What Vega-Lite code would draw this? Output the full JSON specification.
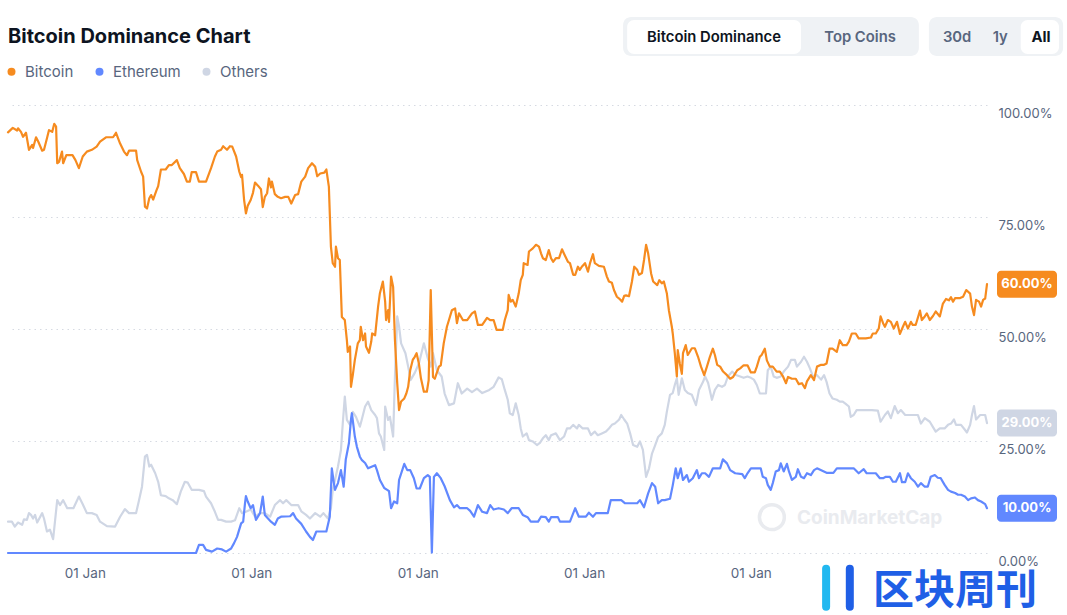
{
"$schema": "https://vega.github.io/schema/vega-lite/v6.json",
"width": 979,
"height": 448,
"autosize": {"type": "none"},
"padding": {"left": 8, "top": 105, "right": 80, "bottom": 62},
"background": "#ffffff",
"config": {"view": {"stroke": null}, "font": "Inter",
 "axisX": {"title": null, "format": "%d %b", "labelAlign": "left", "labelFlush": false, "labelOverlap": false, "grid": false, "domain": false, "ticks": false, "tickSize": 0, "labelPadding": 13, "labelFontSize": 13.5, "labelColor": "#58667e", "labelFont": "Inter"},
 "axisY": {"title": null, "domain": false, "ticks": false, "tickSize": 0, "labelPadding": 11, "labelAlign": "left", "labelBaseline": "top", "labelOffset": 2.5, "labelFontSize": 13, "labelColor": "#58667e", "labelFont": "Inter", "grid": true, "gridColor": "#d6dae2", "gridDash": [1.5, 4], "gridWidth": 1}
},
"title": {"text": "Bitcoin Dominance Chart", "anchor": "start", "frame": "group", "orient": "top", "offset": -45.5, "baseline": "alphabetic", "fontSize": 20, "fontWeight": 700, "font": "Inter", "color": "#0d1421"},
"datasets": {
"dominance": [
{"date":"2013-04-29","series":"Bitcoin","value":93.9},
{"date":"2013-05-20","series":"Bitcoin","value":94.9},
{"date":"2013-06-08","series":"Bitcoin","value":94.3},
{"date":"2013-06-12","series":"Bitcoin","value":94.8},
{"date":"2013-06-25","series":"Bitcoin","value":94.0},
{"date":"2013-07-04","series":"Bitcoin","value":92.9},
{"date":"2013-07-17","series":"Bitcoin","value":93.8},
{"date":"2013-07-30","series":"Bitcoin","value":90.0},
{"date":"2013-08-13","series":"Bitcoin","value":91.1},
{"date":"2013-08-17","series":"Bitcoin","value":90.4},
{"date":"2013-08-30","series":"Bitcoin","value":92.8},
{"date":"2013-09-09","series":"Bitcoin","value":91.8},
{"date":"2013-09-26","series":"Bitcoin","value":89.8},
{"date":"2013-10-04","series":"Bitcoin","value":90.0},
{"date":"2013-10-17","series":"Bitcoin","value":92.6},
{"date":"2013-10-26","series":"Bitcoin","value":94.4},
{"date":"2013-11-09","series":"Bitcoin","value":94.0},
{"date":"2013-11-18","series":"Bitcoin","value":95.8},
{"date":"2013-11-26","series":"Bitcoin","value":95.2},
{"date":"2013-12-01","series":"Bitcoin","value":87.0},
{"date":"2013-12-09","series":"Bitcoin","value":87.3},
{"date":"2013-12-22","series":"Bitcoin","value":89.6},
{"date":"2013-12-27","series":"Bitcoin","value":87.0},
{"date":"2014-01-10","series":"Bitcoin","value":88.8},
{"date":"2014-02-06","series":"Bitcoin","value":88.8},
{"date":"2014-02-19","series":"Bitcoin","value":87.7},
{"date":"2014-03-06","series":"Bitcoin","value":85.9},
{"date":"2014-03-23","series":"Bitcoin","value":88.5},
{"date":"2014-04-10","series":"Bitcoin","value":89.6},
{"date":"2014-05-02","series":"Bitcoin","value":90.0},
{"date":"2014-05-23","series":"Bitcoin","value":90.7},
{"date":"2014-06-07","series":"Bitcoin","value":91.8},
{"date":"2014-07-03","series":"Bitcoin","value":92.8},
{"date":"2014-08-03","series":"Bitcoin","value":92.8},
{"date":"2014-08-16","series":"Bitcoin","value":93.8},
{"date":"2014-09-03","series":"Bitcoin","value":91.4},
{"date":"2014-09-20","series":"Bitcoin","value":89.6},
{"date":"2014-10-03","series":"Bitcoin","value":88.8},
{"date":"2014-10-12","series":"Bitcoin","value":89.8},
{"date":"2014-11-12","series":"Bitcoin","value":89.8},
{"date":"2014-11-17","series":"Bitcoin","value":87.7},
{"date":"2014-12-04","series":"Bitcoin","value":85.1},
{"date":"2014-12-13","series":"Bitcoin","value":84.0},
{"date":"2014-12-21","series":"Bitcoin","value":77.3},
{"date":"2014-12-30","series":"Bitcoin","value":76.9},
{"date":"2015-01-09","series":"Bitcoin","value":79.2},
{"date":"2015-01-17","series":"Bitcoin","value":79.9},
{"date":"2015-01-26","series":"Bitcoin","value":78.9},
{"date":"2015-02-09","series":"Bitcoin","value":80.9},
{"date":"2015-02-17","series":"Bitcoin","value":81.9},
{"date":"2015-03-01","series":"Bitcoin","value":85.6},
{"date":"2015-03-22","series":"Bitcoin","value":85.6},
{"date":"2015-04-05","series":"Bitcoin","value":86.6},
{"date":"2015-04-18","series":"Bitcoin","value":86.6},
{"date":"2015-05-10","series":"Bitcoin","value":87.7},
{"date":"2015-05-23","series":"Bitcoin","value":85.9},
{"date":"2015-06-10","series":"Bitcoin","value":84.6},
{"date":"2015-06-23","series":"Bitcoin","value":82.9},
{"date":"2015-07-06","series":"Bitcoin","value":82.9},
{"date":"2015-07-14","series":"Bitcoin","value":85.0},
{"date":"2015-08-02","series":"Bitcoin","value":85.0},
{"date":"2015-08-15","series":"Bitcoin","value":82.9},
{"date":"2015-09-15","series":"Bitcoin","value":82.9},
{"date":"2015-10-07","series":"Bitcoin","value":85.9},
{"date":"2015-10-24","series":"Bitcoin","value":88.5},
{"date":"2015-11-03","series":"Bitcoin","value":89.6},
{"date":"2015-11-20","series":"Bitcoin","value":90.0},
{"date":"2015-11-29","series":"Bitcoin","value":90.8},
{"date":"2015-12-16","series":"Bitcoin","value":90.0},
{"date":"2015-12-29","series":"Bitcoin","value":90.8},
{"date":"2016-01-08","series":"Bitcoin","value":90.7},
{"date":"2016-01-25","series":"Bitcoin","value":88.5},
{"date":"2016-02-08","series":"Bitcoin","value":85.1},
{"date":"2016-02-16","series":"Bitcoin","value":83.9},
{"date":"2016-02-20","series":"Bitcoin","value":84.4},
{"date":"2016-02-29","series":"Bitcoin","value":78.8},
{"date":"2016-03-08","series":"Bitcoin","value":75.8},
{"date":"2016-03-16","series":"Bitcoin","value":77.5},
{"date":"2016-03-29","series":"Bitcoin","value":78.8},
{"date":"2016-04-08","series":"Bitcoin","value":80.4},
{"date":"2016-04-17","series":"Bitcoin","value":82.7},
{"date":"2016-04-30","series":"Bitcoin","value":82.0},
{"date":"2016-05-13","series":"Bitcoin","value":81.2},
{"date":"2016-05-21","series":"Bitcoin","value":77.2},
{"date":"2016-05-30","series":"Bitcoin","value":79.5},
{"date":"2016-06-09","series":"Bitcoin","value":80.3},
{"date":"2016-06-17","series":"Bitcoin","value":83.6},
{"date":"2016-06-26","series":"Bitcoin","value":81.6},
{"date":"2016-06-30","series":"Bitcoin","value":82.9},
{"date":"2016-07-13","series":"Bitcoin","value":80.1},
{"date":"2016-07-26","series":"Bitcoin","value":79.5},
{"date":"2016-08-09","series":"Bitcoin","value":79.2},
{"date":"2016-08-27","series":"Bitcoin","value":79.5},
{"date":"2016-09-10","series":"Bitcoin","value":79.5},
{"date":"2016-09-23","series":"Bitcoin","value":78.0},
{"date":"2016-10-10","series":"Bitcoin","value":79.9},
{"date":"2016-10-23","series":"Bitcoin","value":80.1},
{"date":"2016-11-06","series":"Bitcoin","value":82.9},
{"date":"2016-11-23","series":"Bitcoin","value":84.0},
{"date":"2016-12-06","series":"Bitcoin","value":85.9},
{"date":"2016-12-23","series":"Bitcoin","value":87.0},
{"date":"2017-01-06","series":"Bitcoin","value":86.2},
{"date":"2017-01-15","series":"Bitcoin","value":84.1},
{"date":"2017-01-28","series":"Bitcoin","value":84.7},
{"date":"2017-02-15","series":"Bitcoin","value":84.9},
{"date":"2017-02-24","series":"Bitcoin","value":85.6},
{"date":"2017-03-07","series":"Bitcoin","value":81.8},
{"date":"2017-03-16","series":"Bitcoin","value":68.4},
{"date":"2017-03-24","series":"Bitcoin","value":64.7},
{"date":"2017-04-03","series":"Bitcoin","value":63.9},
{"date":"2017-04-07","series":"Bitcoin","value":68.4},
{"date":"2017-04-16","series":"Bitcoin","value":65.8},
{"date":"2017-04-24","series":"Bitcoin","value":65.4},
{"date":"2017-05-03","series":"Bitcoin","value":52.7},
{"date":"2017-05-16","series":"Bitcoin","value":52.0},
{"date":"2017-05-25","series":"Bitcoin","value":47.5},
{"date":"2017-05-29","series":"Bitcoin","value":44.9},
{"date":"2017-06-08","series":"Bitcoin","value":46.1},
{"date":"2017-06-12","series":"Bitcoin","value":37.1},
{"date":"2017-06-20","series":"Bitcoin","value":39.7},
{"date":"2017-06-29","series":"Bitcoin","value":43.1},
{"date":"2017-07-12","series":"Bitcoin","value":46.8},
{"date":"2017-07-21","series":"Bitcoin","value":47.5},
{"date":"2017-07-25","series":"Bitcoin","value":50.5},
{"date":"2017-08-04","series":"Bitcoin","value":47.5},
{"date":"2017-08-13","series":"Bitcoin","value":49.0},
{"date":"2017-08-17","series":"Bitcoin","value":46.1},
{"date":"2017-08-30","series":"Bitcoin","value":44.7},
{"date":"2017-09-09","series":"Bitcoin","value":47.2},
{"date":"2017-09-13","series":"Bitcoin","value":49.0},
{"date":"2017-09-26","series":"Bitcoin","value":48.6},
{"date":"2017-10-09","series":"Bitcoin","value":55.0},
{"date":"2017-10-17","series":"Bitcoin","value":58.0},
{"date":"2017-10-30","series":"Bitcoin","value":60.6},
{"date":"2017-11-09","series":"Bitcoin","value":56.1},
{"date":"2017-11-13","series":"Bitcoin","value":52.0},
{"date":"2017-11-22","series":"Bitcoin","value":54.2},
{"date":"2017-11-26","series":"Bitcoin","value":51.6},
{"date":"2017-12-05","series":"Bitcoin","value":61.7},
{"date":"2017-12-14","series":"Bitcoin","value":59.4},
{"date":"2017-12-22","series":"Bitcoin","value":47.5},
{"date":"2018-01-01","series":"Bitcoin","value":37.9},
{"date":"2018-01-09","series":"Bitcoin","value":31.9},
{"date":"2018-01-18","series":"Bitcoin","value":33.8},
{"date":"2018-02-01","series":"Bitcoin","value":34.5},
{"date":"2018-02-10","series":"Bitcoin","value":35.6},
{"date":"2018-02-18","series":"Bitcoin","value":37.1},
{"date":"2018-02-27","series":"Bitcoin","value":40.8},
{"date":"2018-03-10","series":"Bitcoin","value":43.1},
{"date":"2018-03-19","series":"Bitcoin","value":43.8},
{"date":"2018-03-27","series":"Bitcoin","value":44.6},
{"date":"2018-04-06","series":"Bitcoin","value":42.3},
{"date":"2018-04-15","series":"Bitcoin","value":39.0},
{"date":"2018-04-28","series":"Bitcoin","value":36.0},
{"date":"2018-05-11","series":"Bitcoin","value":36.0},
{"date":"2018-05-19","series":"Bitcoin","value":38.6},
{"date":"2018-05-28","series":"Bitcoin","value":58.7},
{"date":"2018-06-07","series":"Bitcoin","value":39.3},
{"date":"2018-06-15","series":"Bitcoin","value":38.9},
{"date":"2018-07-03","series":"Bitcoin","value":41.6},
{"date":"2018-07-11","series":"Bitcoin","value":41.9},
{"date":"2018-07-24","series":"Bitcoin","value":46.8},
{"date":"2018-08-07","series":"Bitcoin","value":50.5},
{"date":"2018-08-16","series":"Bitcoin","value":52.0},
{"date":"2018-08-29","series":"Bitcoin","value":54.2},
{"date":"2018-09-12","series":"Bitcoin","value":54.6},
{"date":"2018-09-20","series":"Bitcoin","value":51.3},
{"date":"2018-09-29","series":"Bitcoin","value":53.5},
{"date":"2018-10-16","series":"Bitcoin","value":52.0},
{"date":"2018-11-04","series":"Bitcoin","value":52.0},
{"date":"2018-11-25","series":"Bitcoin","value":53.5},
{"date":"2018-12-08","series":"Bitcoin","value":53.9},
{"date":"2018-12-21","series":"Bitcoin","value":50.9},
{"date":"2019-01-09","series":"Bitcoin","value":50.9},
{"date":"2019-01-30","series":"Bitcoin","value":52.5},
{"date":"2019-02-13","series":"Bitcoin","value":52.0},
{"date":"2019-02-28","series":"Bitcoin","value":52.0},
{"date":"2019-03-13","series":"Bitcoin","value":49.8},
{"date":"2019-03-22","series":"Bitcoin","value":49.8},
{"date":"2019-04-09","series":"Bitcoin","value":49.8},
{"date":"2019-04-18","series":"Bitcoin","value":52.0},
{"date":"2019-05-01","series":"Bitcoin","value":54.2},
{"date":"2019-05-05","series":"Bitcoin","value":57.6},
{"date":"2019-05-14","series":"Bitcoin","value":56.1},
{"date":"2019-05-23","series":"Bitcoin","value":56.5},
{"date":"2019-06-05","series":"Bitcoin","value":55.0},
{"date":"2019-06-18","series":"Bitcoin","value":57.9},
{"date":"2019-06-27","series":"Bitcoin","value":60.9},
{"date":"2019-07-06","series":"Bitcoin","value":62.1},
{"date":"2019-07-10","series":"Bitcoin","value":64.7},
{"date":"2019-07-27","series":"Bitcoin","value":64.3},
{"date":"2019-08-02","series":"Bitcoin","value":67.3},
{"date":"2019-08-19","series":"Bitcoin","value":68.0},
{"date":"2019-09-02","series":"Bitcoin","value":68.8},
{"date":"2019-09-15","series":"Bitcoin","value":68.4},
{"date":"2019-09-24","series":"Bitcoin","value":66.9},
{"date":"2019-10-02","series":"Bitcoin","value":65.8},
{"date":"2019-10-15","series":"Bitcoin","value":65.4},
{"date":"2019-10-28","series":"Bitcoin","value":67.6},
{"date":"2019-11-07","series":"Bitcoin","value":65.8},
{"date":"2019-11-16","series":"Bitcoin","value":65.0},
{"date":"2019-11-28","series":"Bitcoin","value":65.8},
{"date":"2019-12-12","series":"Bitcoin","value":65.8},
{"date":"2019-12-25","series":"Bitcoin","value":67.8},
{"date":"2020-01-03","series":"Bitcoin","value":66.8},
{"date":"2020-01-20","series":"Bitcoin","value":65.0},
{"date":"2020-01-29","series":"Bitcoin","value":64.7},
{"date":"2020-02-12","series":"Bitcoin","value":62.1},
{"date":"2020-02-21","series":"Bitcoin","value":62.1},
{"date":"2020-03-04","series":"Bitcoin","value":63.9},
{"date":"2020-03-12","series":"Bitcoin","value":63.2},
{"date":"2020-03-21","series":"Bitcoin","value":63.9},
{"date":"2020-04-04","series":"Bitcoin","value":64.7},
{"date":"2020-04-17","series":"Bitcoin","value":62.8},
{"date":"2020-04-26","series":"Bitcoin","value":64.7},
{"date":"2020-05-09","series":"Bitcoin","value":66.7},
{"date":"2020-05-17","series":"Bitcoin","value":64.7},
{"date":"2020-06-04","series":"Bitcoin","value":64.1},
{"date":"2020-06-26","series":"Bitcoin","value":63.9},
{"date":"2020-07-09","series":"Bitcoin","value":61.7},
{"date":"2020-07-18","series":"Bitcoin","value":60.6},
{"date":"2020-07-31","series":"Bitcoin","value":60.3},
{"date":"2020-08-09","series":"Bitcoin","value":58.7},
{"date":"2020-08-22","series":"Bitcoin","value":57.2},
{"date":"2020-09-01","series":"Bitcoin","value":56.8},
{"date":"2020-09-14","series":"Bitcoin","value":56.1},
{"date":"2020-09-23","series":"Bitcoin","value":57.4},
{"date":"2020-10-01","series":"Bitcoin","value":57.5},
{"date":"2020-10-14","series":"Bitcoin","value":57.3},
{"date":"2020-10-27","series":"Bitcoin","value":60.6},
{"date":"2020-11-06","series":"Bitcoin","value":63.9},
{"date":"2020-11-19","series":"Bitcoin","value":63.2},
{"date":"2020-11-27","series":"Bitcoin","value":62.1},
{"date":"2020-12-10","series":"Bitcoin","value":62.5},
{"date":"2020-12-19","series":"Bitcoin","value":65.4},
{"date":"2020-12-28","series":"Bitcoin","value":68.8},
{"date":"2021-01-06","series":"Bitcoin","value":66.9},
{"date":"2021-01-19","series":"Bitcoin","value":62.4},
{"date":"2021-01-28","series":"Bitcoin","value":60.6},
{"date":"2021-02-15","series":"Bitcoin","value":59.8},
{"date":"2021-02-24","series":"Bitcoin","value":60.9},
{"date":"2021-03-07","series":"Bitcoin","value":60.2},
{"date":"2021-03-16","series":"Bitcoin","value":60.6},
{"date":"2021-03-29","series":"Bitcoin","value":58.0},
{"date":"2021-04-07","series":"Bitcoin","value":54.2},
{"date":"2021-04-20","series":"Bitcoin","value":50.5},
{"date":"2021-04-24","series":"Bitcoin","value":49.0},
{"date":"2021-05-03","series":"Bitcoin","value":44.6},
{"date":"2021-05-12","series":"Bitcoin","value":39.4},
{"date":"2021-05-16","series":"Bitcoin","value":45.3},
{"date":"2021-05-25","series":"Bitcoin","value":42.3},
{"date":"2021-06-03","series":"Bitcoin","value":40.0},
{"date":"2021-06-08","series":"Bitcoin","value":44.6},
{"date":"2021-06-20","series":"Bitcoin","value":46.4},
{"date":"2021-06-29","series":"Bitcoin","value":44.2},
{"date":"2021-07-17","series":"Bitcoin","value":45.7},
{"date":"2021-07-30","series":"Bitcoin","value":45.7},
{"date":"2021-08-13","series":"Bitcoin","value":43.8},
{"date":"2021-08-26","series":"Bitcoin","value":41.6},
{"date":"2021-09-09","series":"Bitcoin","value":39.7},
{"date":"2021-09-21","series":"Bitcoin","value":41.6},
{"date":"2021-10-04","series":"Bitcoin","value":43.8},
{"date":"2021-10-17","series":"Bitcoin","value":45.6},
{"date":"2021-10-26","series":"Bitcoin","value":44.2},
{"date":"2021-11-05","series":"Bitcoin","value":42.0},
{"date":"2021-11-18","series":"Bitcoin","value":41.6},
{"date":"2021-12-01","series":"Bitcoin","value":40.5},
{"date":"2021-12-18","series":"Bitcoin","value":39.7},
{"date":"2022-01-01","series":"Bitcoin","value":38.9},
{"date":"2022-01-14","series":"Bitcoin","value":39.3},
{"date":"2022-02-01","series":"Bitcoin","value":40.8},
{"date":"2022-02-14","series":"Bitcoin","value":41.2},
{"date":"2022-03-01","series":"Bitcoin","value":41.9},
{"date":"2022-03-18","series":"Bitcoin","value":41.9},
{"date":"2022-04-02","series":"Bitcoin","value":40.3},
{"date":"2022-04-19","series":"Bitcoin","value":40.3},
{"date":"2022-04-28","series":"Bitcoin","value":41.6},
{"date":"2022-05-11","series":"Bitcoin","value":43.8},
{"date":"2022-05-19","series":"Bitcoin","value":44.2},
{"date":"2022-06-02","series":"Bitcoin","value":45.6},
{"date":"2022-06-11","series":"Bitcoin","value":43.0},
{"date":"2022-06-24","series":"Bitcoin","value":41.6},
{"date":"2022-07-07","series":"Bitcoin","value":41.6},
{"date":"2022-07-24","series":"Bitcoin","value":40.5},
{"date":"2022-08-07","series":"Bitcoin","value":40.5},
{"date":"2022-08-20","series":"Bitcoin","value":39.5},
{"date":"2022-09-03","series":"Bitcoin","value":37.9},
{"date":"2022-09-12","series":"Bitcoin","value":39.3},
{"date":"2022-09-29","series":"Bitcoin","value":38.9},
{"date":"2022-10-16","series":"Bitcoin","value":38.9},
{"date":"2022-10-29","series":"Bitcoin","value":37.7},
{"date":"2022-11-12","series":"Bitcoin","value":37.9},
{"date":"2022-11-25","series":"Bitcoin","value":36.8},
{"date":"2022-12-04","series":"Bitcoin","value":38.3},
{"date":"2022-12-21","series":"Bitcoin","value":39.7},
{"date":"2023-01-04","series":"Bitcoin","value":38.6},
{"date":"2023-01-17","series":"Bitcoin","value":41.6},
{"date":"2023-02-04","series":"Bitcoin","value":42.0},
{"date":"2023-02-17","series":"Bitcoin","value":42.0},
{"date":"2023-02-28","series":"Bitcoin","value":42.3},
{"date":"2023-03-13","series":"Bitcoin","value":45.6},
{"date":"2023-03-26","series":"Bitcoin","value":45.6},
{"date":"2023-04-14","series":"Bitcoin","value":44.9},
{"date":"2023-04-27","series":"Bitcoin","value":47.5},
{"date":"2023-05-10","series":"Bitcoin","value":46.4},
{"date":"2023-05-27","series":"Bitcoin","value":46.4},
{"date":"2023-06-06","series":"Bitcoin","value":47.2},
{"date":"2023-06-19","series":"Bitcoin","value":49.0},
{"date":"2023-07-06","series":"Bitcoin","value":49.0},
{"date":"2023-07-19","series":"Bitcoin","value":47.9},
{"date":"2023-08-19","series":"Bitcoin","value":47.9},
{"date":"2023-09-11","series":"Bitcoin","value":48.1},
{"date":"2023-09-15","series":"Bitcoin","value":48.6},
{"date":"2023-09-19","series":"Bitcoin","value":49.0},
{"date":"2023-10-02","series":"Bitcoin","value":49.0},
{"date":"2023-10-15","series":"Bitcoin","value":50.1},
{"date":"2023-10-23","series":"Bitcoin","value":52.8},
{"date":"2023-11-03","series":"Bitcoin","value":51.3},
{"date":"2023-11-11","series":"Bitcoin","value":50.5},
{"date":"2023-11-24","series":"Bitcoin","value":52.0},
{"date":"2023-12-07","series":"Bitcoin","value":51.6},
{"date":"2023-12-20","series":"Bitcoin","value":50.1},
{"date":"2024-01-03","series":"Bitcoin","value":51.6},
{"date":"2024-01-16","series":"Bitcoin","value":48.9},
{"date":"2024-01-29","series":"Bitcoin","value":50.5},
{"date":"2024-02-08","series":"Bitcoin","value":51.6},
{"date":"2024-02-20","series":"Bitcoin","value":50.1},
{"date":"2024-03-04","series":"Bitcoin","value":51.6},
{"date":"2024-03-12","series":"Bitcoin","value":50.9},
{"date":"2024-03-25","series":"Bitcoin","value":50.9},
{"date":"2024-04-13","series":"Bitcoin","value":54.1},
{"date":"2024-04-21","series":"Bitcoin","value":52.0},
{"date":"2024-05-04","series":"Bitcoin","value":52.8},
{"date":"2024-05-13","series":"Bitcoin","value":53.5},
{"date":"2024-05-26","series":"Bitcoin","value":52.0},
{"date":"2024-06-09","series":"Bitcoin","value":52.9},
{"date":"2024-06-21","series":"Bitcoin","value":53.9},
{"date":"2024-07-09","series":"Bitcoin","value":52.8},
{"date":"2024-07-22","series":"Bitcoin","value":55.6},
{"date":"2024-08-05","series":"Bitcoin","value":56.7},
{"date":"2024-08-18","series":"Bitcoin","value":56.4},
{"date":"2024-08-27","series":"Bitcoin","value":57.1},
{"date":"2024-09-05","series":"Bitcoin","value":56.1},
{"date":"2024-09-14","series":"Bitcoin","value":56.9},
{"date":"2024-10-06","series":"Bitcoin","value":56.9},
{"date":"2024-10-19","series":"Bitcoin","value":57.2},
{"date":"2024-11-02","series":"Bitcoin","value":58.7},
{"date":"2024-11-19","series":"Bitcoin","value":57.9},
{"date":"2024-11-27","series":"Bitcoin","value":55.0},
{"date":"2024-12-06","series":"Bitcoin","value":53.1},
{"date":"2024-12-15","series":"Bitcoin","value":56.5},
{"date":"2024-12-28","series":"Bitcoin","value":56.1},
{"date":"2025-01-06","series":"Bitcoin","value":55.0},
{"date":"2025-01-15","series":"Bitcoin","value":56.5},
{"date":"2025-01-24","series":"Bitcoin","value":56.8},
{"date":"2025-02-01","series":"Bitcoin","value":60.0},
{"date":"2013-04-29","series":"Ethereum","value":0},
{"date":"2015-08-02","series":"Ethereum","value":0},
{"date":"2015-08-15","series":"Ethereum","value":1.8},
{"date":"2015-09-02","series":"Ethereum","value":1.8},
{"date":"2015-09-15","series":"Ethereum","value":0.7},
{"date":"2015-10-11","series":"Ethereum","value":0.3},
{"date":"2015-11-03","series":"Ethereum","value":1.0},
{"date":"2015-11-24","series":"Ethereum","value":0.8},
{"date":"2015-12-12","series":"Ethereum","value":0.3},
{"date":"2016-01-03","series":"Ethereum","value":1.0},
{"date":"2016-01-16","series":"Ethereum","value":2.2},
{"date":"2016-01-29","series":"Ethereum","value":3.6},
{"date":"2016-02-16","series":"Ethereum","value":6.6},
{"date":"2016-02-25","series":"Ethereum","value":7.0},
{"date":"2016-03-04","series":"Ethereum","value":11.1},
{"date":"2016-03-08","series":"Ethereum","value":12.7},
{"date":"2016-03-16","series":"Ethereum","value":11.5},
{"date":"2016-03-29","series":"Ethereum","value":10.0},
{"date":"2016-04-08","series":"Ethereum","value":10.7},
{"date":"2016-04-21","series":"Ethereum","value":7.4},
{"date":"2016-05-09","series":"Ethereum","value":8.9},
{"date":"2016-05-21","series":"Ethereum","value":12.6},
{"date":"2016-05-30","series":"Ethereum","value":8.5},
{"date":"2016-06-13","series":"Ethereum","value":7.7},
{"date":"2016-06-26","series":"Ethereum","value":7.0},
{"date":"2016-07-13","series":"Ethereum","value":6.3},
{"date":"2016-07-26","series":"Ethereum","value":7.7},
{"date":"2016-08-09","series":"Ethereum","value":8.1},
{"date":"2016-09-18","series":"Ethereum","value":8.2},
{"date":"2016-10-01","series":"Ethereum","value":8.9},
{"date":"2016-10-14","series":"Ethereum","value":7.7},
{"date":"2016-11-06","series":"Ethereum","value":6.5},
{"date":"2016-11-27","series":"Ethereum","value":4.8},
{"date":"2016-12-14","series":"Ethereum","value":3.6},
{"date":"2016-12-27","series":"Ethereum","value":2.9},
{"date":"2017-01-11","series":"Ethereum","value":4.8},
{"date":"2017-02-24","series":"Ethereum","value":4.8},
{"date":"2017-03-11","series":"Ethereum","value":8.1},
{"date":"2017-03-20","series":"Ethereum","value":18.9},
{"date":"2017-03-29","series":"Ethereum","value":15.6},
{"date":"2017-04-03","series":"Ethereum","value":14.1},
{"date":"2017-04-16","series":"Ethereum","value":15.6},
{"date":"2017-04-29","series":"Ethereum","value":18.5},
{"date":"2017-05-11","series":"Ethereum","value":14.8},
{"date":"2017-05-20","series":"Ethereum","value":20.8},
{"date":"2017-06-03","series":"Ethereum","value":24.5},
{"date":"2017-06-12","series":"Ethereum","value":29.7},
{"date":"2017-06-16","series":"Ethereum","value":31.2},
{"date":"2017-06-29","series":"Ethereum","value":26.0},
{"date":"2017-07-08","series":"Ethereum","value":23.7},
{"date":"2017-07-21","series":"Ethereum","value":21.5},
{"date":"2017-07-29","series":"Ethereum","value":20.8},
{"date":"2017-08-13","series":"Ethereum","value":20.1},
{"date":"2017-08-26","series":"Ethereum","value":18.9},
{"date":"2017-09-13","series":"Ethereum","value":19.3},
{"date":"2017-09-26","series":"Ethereum","value":19.6},
{"date":"2017-10-04","series":"Ethereum","value":18.5},
{"date":"2017-10-17","series":"Ethereum","value":16.3},
{"date":"2017-11-05","series":"Ethereum","value":14.5},
{"date":"2017-11-18","series":"Ethereum","value":14.1},
{"date":"2017-11-26","series":"Ethereum","value":13.8},
{"date":"2017-12-05","series":"Ethereum","value":10.0},
{"date":"2017-12-18","series":"Ethereum","value":11.5},
{"date":"2018-01-01","series":"Ethereum","value":11.1},
{"date":"2018-01-09","series":"Ethereum","value":16.3},
{"date":"2018-02-01","series":"Ethereum","value":19.9},
{"date":"2018-02-14","series":"Ethereum","value":18.5},
{"date":"2018-02-27","series":"Ethereum","value":18.5},
{"date":"2018-03-15","series":"Ethereum","value":16.7},
{"date":"2018-03-27","series":"Ethereum","value":14.4},
{"date":"2018-04-10","series":"Ethereum","value":14.4},
{"date":"2018-04-28","series":"Ethereum","value":16.7},
{"date":"2018-05-15","series":"Ethereum","value":17.4},
{"date":"2018-05-24","series":"Ethereum","value":17.0},
{"date":"2018-06-02","series":"Ethereum","value":0.1},
{"date":"2018-06-11","series":"Ethereum","value":17.0},
{"date":"2018-06-24","series":"Ethereum","value":17.8},
{"date":"2018-07-11","series":"Ethereum","value":16.7},
{"date":"2018-07-28","series":"Ethereum","value":14.9},
{"date":"2018-08-20","series":"Ethereum","value":11.8},
{"date":"2018-09-07","series":"Ethereum","value":10.2},
{"date":"2018-09-20","series":"Ethereum","value":10.7},
{"date":"2018-10-03","series":"Ethereum","value":10.0},
{"date":"2018-11-04","series":"Ethereum","value":10.0},
{"date":"2018-11-17","series":"Ethereum","value":9.4},
{"date":"2018-12-04","series":"Ethereum","value":8.1},
{"date":"2018-12-21","series":"Ethereum","value":10.7},
{"date":"2019-01-09","series":"Ethereum","value":9.2},
{"date":"2019-01-30","series":"Ethereum","value":8.9},
{"date":"2019-02-13","series":"Ethereum","value":10.7},
{"date":"2019-02-28","series":"Ethereum","value":9.7},
{"date":"2019-03-22","series":"Ethereum","value":10.0},
{"date":"2019-04-14","series":"Ethereum","value":9.7},
{"date":"2019-05-01","series":"Ethereum","value":8.9},
{"date":"2019-05-18","series":"Ethereum","value":10.0},
{"date":"2019-06-18","series":"Ethereum","value":10.0},
{"date":"2019-07-06","series":"Ethereum","value":8.5},
{"date":"2019-07-27","series":"Ethereum","value":8.0},
{"date":"2019-08-10","series":"Ethereum","value":7.0},
{"date":"2019-09-11","series":"Ethereum","value":7.0},
{"date":"2019-09-24","series":"Ethereum","value":8.1},
{"date":"2019-10-15","series":"Ethereum","value":8.0},
{"date":"2019-10-28","series":"Ethereum","value":7.0},
{"date":"2019-11-07","series":"Ethereum","value":8.0},
{"date":"2019-12-07","series":"Ethereum","value":8.0},
{"date":"2019-12-16","series":"Ethereum","value":7.0},
{"date":"2020-01-29","series":"Ethereum","value":7.0},
{"date":"2020-02-21","series":"Ethereum","value":10.0},
{"date":"2020-03-08","series":"Ethereum","value":8.1},
{"date":"2020-04-08","series":"Ethereum","value":8.1},
{"date":"2020-04-21","series":"Ethereum","value":9.0},
{"date":"2020-05-09","series":"Ethereum","value":8.1},
{"date":"2020-05-22","series":"Ethereum","value":8.9},
{"date":"2020-07-13","series":"Ethereum","value":8.9},
{"date":"2020-07-26","series":"Ethereum","value":11.8},
{"date":"2020-09-10","series":"Ethereum","value":11.8},
{"date":"2020-09-27","series":"Ethereum","value":11.1},
{"date":"2020-11-19","series":"Ethereum","value":11.1},
{"date":"2020-12-01","series":"Ethereum","value":11.8},
{"date":"2020-12-19","series":"Ethereum","value":10.2},
{"date":"2021-01-06","series":"Ethereum","value":13.3},
{"date":"2021-01-23","series":"Ethereum","value":15.6},
{"date":"2021-02-06","series":"Ethereum","value":14.8},
{"date":"2021-02-19","series":"Ethereum","value":11.1},
{"date":"2021-03-07","series":"Ethereum","value":11.8},
{"date":"2021-03-20","series":"Ethereum","value":11.8},
{"date":"2021-04-12","series":"Ethereum","value":12.1},
{"date":"2021-04-24","series":"Ethereum","value":15.1},
{"date":"2021-05-07","series":"Ethereum","value":18.9},
{"date":"2021-05-16","series":"Ethereum","value":16.7},
{"date":"2021-05-29","series":"Ethereum","value":18.9},
{"date":"2021-06-08","series":"Ethereum","value":16.3},
{"date":"2021-06-25","series":"Ethereum","value":17.4},
{"date":"2021-07-04","series":"Ethereum","value":15.9},
{"date":"2021-07-21","series":"Ethereum","value":16.7},
{"date":"2021-08-08","series":"Ethereum","value":18.5},
{"date":"2021-08-17","series":"Ethereum","value":16.7},
{"date":"2021-08-30","series":"Ethereum","value":17.8},
{"date":"2021-09-13","series":"Ethereum","value":17.8},
{"date":"2021-09-30","series":"Ethereum","value":17.0},
{"date":"2021-10-17","series":"Ethereum","value":18.9},
{"date":"2021-11-18","series":"Ethereum","value":18.9},
{"date":"2021-11-30","series":"Ethereum","value":20.9},
{"date":"2021-12-18","series":"Ethereum","value":20.0},
{"date":"2022-01-01","series":"Ethereum","value":18.5},
{"date":"2022-01-23","series":"Ethereum","value":17.8},
{"date":"2022-02-23","series":"Ethereum","value":17.6},
{"date":"2022-03-06","series":"Ethereum","value":16.7},
{"date":"2022-03-18","series":"Ethereum","value":17.8},
{"date":"2022-04-02","series":"Ethereum","value":18.9},
{"date":"2022-05-15","series":"Ethereum","value":18.9},
{"date":"2022-05-24","series":"Ethereum","value":17.0},
{"date":"2022-06-07","series":"Ethereum","value":16.7},
{"date":"2022-06-15","series":"Ethereum","value":15.2},
{"date":"2022-06-28","series":"Ethereum","value":14.1},
{"date":"2022-07-07","series":"Ethereum","value":15.6},
{"date":"2022-07-20","series":"Ethereum","value":18.2},
{"date":"2022-08-03","series":"Ethereum","value":18.5},
{"date":"2022-08-11","series":"Ethereum","value":20.0},
{"date":"2022-08-24","series":"Ethereum","value":18.2},
{"date":"2022-09-07","series":"Ethereum","value":19.9},
{"date":"2022-09-16","series":"Ethereum","value":18.2},
{"date":"2022-09-29","series":"Ethereum","value":16.3},
{"date":"2022-10-16","series":"Ethereum","value":17.0},
{"date":"2022-10-25","series":"Ethereum","value":18.7},
{"date":"2022-11-08","series":"Ethereum","value":17.0},
{"date":"2022-11-21","series":"Ethereum","value":16.7},
{"date":"2022-12-04","series":"Ethereum","value":17.8},
{"date":"2022-12-21","series":"Ethereum","value":17.4},
{"date":"2023-01-04","series":"Ethereum","value":18.5},
{"date":"2023-01-17","series":"Ethereum","value":18.9},
{"date":"2023-02-28","series":"Ethereum","value":17.9},
{"date":"2023-03-30","series":"Ethereum","value":17.9},
{"date":"2023-04-14","series":"Ethereum","value":18.9},
{"date":"2023-05-05","series":"Ethereum","value":18.9},
{"date":"2023-06-27","series":"Ethereum","value":18.9},
{"date":"2023-07-19","series":"Ethereum","value":17.8},
{"date":"2023-08-10","series":"Ethereum","value":18.7},
{"date":"2023-08-23","series":"Ethereum","value":17.8},
{"date":"2023-09-15","series":"Ethereum","value":17.8},
{"date":"2023-10-02","series":"Ethereum","value":17.8},
{"date":"2023-10-20","series":"Ethereum","value":16.7},
{"date":"2023-11-03","series":"Ethereum","value":16.7},
{"date":"2023-11-15","series":"Ethereum","value":17.0},
{"date":"2023-12-03","series":"Ethereum","value":17.0},
{"date":"2023-12-16","series":"Ethereum","value":15.9},
{"date":"2023-12-29","series":"Ethereum","value":15.9},
{"date":"2024-01-16","series":"Ethereum","value":17.8},
{"date":"2024-01-25","series":"Ethereum","value":15.8},
{"date":"2024-02-08","series":"Ethereum","value":15.8},
{"date":"2024-02-20","series":"Ethereum","value":17.8},
{"date":"2024-03-04","series":"Ethereum","value":16.7},
{"date":"2024-03-21","series":"Ethereum","value":15.9},
{"date":"2024-04-04","series":"Ethereum","value":14.8},
{"date":"2024-04-17","series":"Ethereum","value":15.6},
{"date":"2024-05-04","series":"Ethereum","value":14.8},
{"date":"2024-05-17","series":"Ethereum","value":14.8},
{"date":"2024-05-30","series":"Ethereum","value":17.0},
{"date":"2024-06-17","series":"Ethereum","value":17.4},
{"date":"2024-06-30","series":"Ethereum","value":16.8},
{"date":"2024-07-13","series":"Ethereum","value":16.7},
{"date":"2024-07-30","series":"Ethereum","value":15.2},
{"date":"2024-08-14","series":"Ethereum","value":14.1},
{"date":"2024-08-27","series":"Ethereum","value":13.7},
{"date":"2024-09-14","series":"Ethereum","value":13.4},
{"date":"2024-09-27","series":"Ethereum","value":13.0},
{"date":"2024-10-10","series":"Ethereum","value":13.0},
{"date":"2024-10-27","series":"Ethereum","value":12.6},
{"date":"2024-11-10","series":"Ethereum","value":11.8},
{"date":"2024-11-23","series":"Ethereum","value":12.2},
{"date":"2024-12-10","series":"Ethereum","value":12.4},
{"date":"2024-12-23","series":"Ethereum","value":11.8},
{"date":"2025-01-06","series":"Ethereum","value":11.5},
{"date":"2025-01-24","series":"Ethereum","value":10.9},
{"date":"2025-02-01","series":"Ethereum","value":10.0},
{"date":"2013-04-29","series":"Others","value":7.0},
{"date":"2013-05-16","series":"Others","value":7.0},
{"date":"2013-05-29","series":"Others","value":5.9},
{"date":"2013-06-12","series":"Others","value":6.8},
{"date":"2013-06-30","series":"Others","value":6.3},
{"date":"2013-07-08","series":"Others","value":7.5},
{"date":"2013-07-21","series":"Others","value":7.4},
{"date":"2013-07-30","series":"Others","value":8.9},
{"date":"2013-08-08","series":"Others","value":8.5},
{"date":"2013-08-17","series":"Others","value":7.7},
{"date":"2013-08-26","series":"Others","value":8.5},
{"date":"2013-09-04","series":"Others","value":6.8},
{"date":"2013-09-26","series":"Others","value":8.9},
{"date":"2013-10-04","series":"Others","value":7.7},
{"date":"2013-10-17","series":"Others","value":4.8},
{"date":"2013-10-30","series":"Others","value":5.2},
{"date":"2013-11-13","series":"Others","value":3.1},
{"date":"2013-12-01","series":"Others","value":11.8},
{"date":"2013-12-13","series":"Others","value":10.7},
{"date":"2013-12-27","series":"Others","value":11.8},
{"date":"2014-01-14","series":"Others","value":10.0},
{"date":"2014-02-10","series":"Others","value":10.0},
{"date":"2014-03-06","series":"Others","value":12.6},
{"date":"2014-03-23","series":"Others","value":10.9},
{"date":"2014-04-10","series":"Others","value":8.9},
{"date":"2014-05-02","series":"Others","value":8.9},
{"date":"2014-05-23","series":"Others","value":8.5},
{"date":"2014-06-07","series":"Others","value":7.0},
{"date":"2014-07-07","series":"Others","value":6.0},
{"date":"2014-08-12","series":"Others","value":5.9},
{"date":"2014-09-03","series":"Others","value":8.1},
{"date":"2014-09-24","series":"Others","value":9.8},
{"date":"2014-10-12","series":"Others","value":8.9},
{"date":"2014-11-12","series":"Others","value":8.9},
{"date":"2014-11-25","series":"Others","value":11.8},
{"date":"2014-12-08","series":"Others","value":14.8},
{"date":"2014-12-21","series":"Others","value":21.5},
{"date":"2014-12-30","series":"Others","value":21.9},
{"date":"2015-01-09","series":"Others","value":19.3},
{"date":"2015-01-17","series":"Others","value":19.7},
{"date":"2015-02-04","series":"Others","value":17.8},
{"date":"2015-02-17","series":"Others","value":15.9},
{"date":"2015-03-01","series":"Others","value":12.9},
{"date":"2015-03-22","series":"Others","value":12.7},
{"date":"2015-04-05","series":"Others","value":12.2},
{"date":"2015-04-22","series":"Others","value":11.8},
{"date":"2015-05-10","series":"Others","value":10.9},
{"date":"2015-05-27","series":"Others","value":13.7},
{"date":"2015-06-14","series":"Others","value":15.9},
{"date":"2015-06-27","series":"Others","value":15.7},
{"date":"2015-07-14","series":"Others","value":14.1},
{"date":"2015-08-15","series":"Others","value":14.1},
{"date":"2015-09-06","series":"Others","value":13.8},
{"date":"2015-09-15","series":"Others","value":12.6},
{"date":"2015-10-07","series":"Others","value":11.1},
{"date":"2015-10-24","series":"Others","value":9.2},
{"date":"2015-11-07","series":"Others","value":7.4},
{"date":"2015-11-20","series":"Others","value":7.4},
{"date":"2015-12-12","series":"Others","value":7.0},
{"date":"2016-01-03","series":"Others","value":7.0},
{"date":"2016-01-20","series":"Others","value":7.3},
{"date":"2016-02-08","series":"Others","value":10.0},
{"date":"2016-02-20","series":"Others","value":8.9},
{"date":"2016-03-08","series":"Others","value":9.2},
{"date":"2016-03-29","series":"Others","value":9.7},
{"date":"2016-04-17","series":"Others","value":8.1},
{"date":"2016-05-09","series":"Others","value":8.9},
{"date":"2016-05-30","series":"Others","value":8.9},
{"date":"2016-06-22","series":"Others","value":8.1},
{"date":"2016-07-13","series":"Others","value":10.7},
{"date":"2016-08-05","series":"Others","value":11.8},
{"date":"2016-08-18","series":"Others","value":11.1},
{"date":"2016-09-01","series":"Others","value":11.8},
{"date":"2016-09-23","series":"Others","value":10.7},
{"date":"2016-10-23","series":"Others","value":10.7},
{"date":"2016-11-06","series":"Others","value":9.3},
{"date":"2016-11-27","series":"Others","value":8.5},
{"date":"2016-12-14","series":"Others","value":7.7},
{"date":"2017-01-06","series":"Others","value":8.9},
{"date":"2017-01-28","series":"Others","value":8.1},
{"date":"2017-02-11","series":"Others","value":8.9},
{"date":"2017-03-03","series":"Others","value":7.7},
{"date":"2017-03-16","series":"Others","value":10.0},
{"date":"2017-03-24","series":"Others","value":14.1},
{"date":"2017-04-03","series":"Others","value":16.3},
{"date":"2017-04-16","series":"Others","value":19.3},
{"date":"2017-04-29","series":"Others","value":23.0},
{"date":"2017-05-07","series":"Others","value":28.9},
{"date":"2017-05-16","series":"Others","value":34.9},
{"date":"2017-05-25","series":"Others","value":29.7},
{"date":"2017-06-08","series":"Others","value":28.6},
{"date":"2017-06-20","series":"Others","value":31.5},
{"date":"2017-07-04","series":"Others","value":30.4},
{"date":"2017-07-21","series":"Others","value":28.2},
{"date":"2017-07-29","series":"Others","value":29.7},
{"date":"2017-08-13","series":"Others","value":32.7},
{"date":"2017-08-26","series":"Others","value":33.8},
{"date":"2017-09-09","series":"Others","value":31.9},
{"date":"2017-09-26","series":"Others","value":30.8},
{"date":"2017-10-04","series":"Others","value":30.1},
{"date":"2017-10-13","series":"Others","value":26.7},
{"date":"2017-10-21","series":"Others","value":26.0},
{"date":"2017-11-05","series":"Others","value":23.0},
{"date":"2017-11-09","series":"Others","value":32.7},
{"date":"2017-11-22","series":"Others","value":29.7},
{"date":"2017-11-30","series":"Others","value":30.4},
{"date":"2017-12-14","series":"Others","value":26.0},
{"date":"2017-12-22","series":"Others","value":39.4},
{"date":"2018-01-01","series":"Others","value":52.8},
{"date":"2018-01-09","series":"Others","value":50.6},
{"date":"2018-01-18","series":"Others","value":46.8},
{"date":"2018-02-06","series":"Others","value":44.6},
{"date":"2018-02-18","series":"Others","value":41.6},
{"date":"2018-03-01","series":"Others","value":38.6},
{"date":"2018-03-19","series":"Others","value":40.2},
{"date":"2018-04-06","series":"Others","value":42.3},
{"date":"2018-04-28","series":"Others","value":46.8},
{"date":"2018-05-15","series":"Others","value":43.5},
{"date":"2018-05-28","series":"Others","value":41.6},
{"date":"2018-06-07","series":"Others","value":44.6},
{"date":"2018-06-24","series":"Others","value":40.8},
{"date":"2018-07-15","series":"Others","value":39.4},
{"date":"2018-07-28","series":"Others","value":35.6},
{"date":"2018-08-16","series":"Others","value":33.0},
{"date":"2018-09-07","series":"Others","value":33.4},
{"date":"2018-09-24","series":"Others","value":37.9},
{"date":"2018-10-11","series":"Others","value":35.6},
{"date":"2018-11-04","series":"Others","value":36.7},
{"date":"2018-11-25","series":"Others","value":35.9},
{"date":"2018-12-17","series":"Others","value":36.7},
{"date":"2019-01-09","series":"Others","value":35.7},
{"date":"2019-02-09","series":"Others","value":36.4},
{"date":"2019-02-28","series":"Others","value":37.1},
{"date":"2019-03-22","series":"Others","value":39.2},
{"date":"2019-04-05","series":"Others","value":38.8},
{"date":"2019-04-18","series":"Others","value":36.4},
{"date":"2019-05-01","series":"Others","value":34.2},
{"date":"2019-05-10","series":"Others","value":31.2},
{"date":"2019-05-23","series":"Others","value":30.8},
{"date":"2019-06-05","series":"Others","value":33.4},
{"date":"2019-06-18","series":"Others","value":30.8},
{"date":"2019-06-27","series":"Others","value":27.8},
{"date":"2019-07-06","series":"Others","value":26.0},
{"date":"2019-07-23","series":"Others","value":26.7},
{"date":"2019-08-02","series":"Others","value":25.2},
{"date":"2019-08-19","series":"Others","value":24.9},
{"date":"2019-09-06","series":"Others","value":24.1},
{"date":"2019-09-19","series":"Others","value":24.6},
{"date":"2019-10-02","series":"Others","value":25.6},
{"date":"2019-10-15","series":"Others","value":26.3},
{"date":"2019-10-28","series":"Others","value":25.2},
{"date":"2019-11-07","series":"Others","value":26.3},
{"date":"2019-11-28","series":"Others","value":26.7},
{"date":"2019-12-16","series":"Others","value":25.2},
{"date":"2020-01-03","series":"Others","value":26.0},
{"date":"2020-01-16","series":"Others","value":27.8},
{"date":"2020-01-29","series":"Others","value":27.8},
{"date":"2020-02-12","series":"Others","value":28.6},
{"date":"2020-02-29","series":"Others","value":27.8},
{"date":"2020-03-08","series":"Others","value":28.6},
{"date":"2020-03-25","series":"Others","value":27.8},
{"date":"2020-04-17","series":"Others","value":27.8},
{"date":"2020-04-30","series":"Others","value":26.3},
{"date":"2020-05-17","series":"Others","value":27.1},
{"date":"2020-05-30","series":"Others","value":26.3},
{"date":"2020-06-17","series":"Others","value":26.7},
{"date":"2020-07-05","series":"Others","value":27.1},
{"date":"2020-07-18","series":"Others","value":27.8},
{"date":"2020-07-31","series":"Others","value":28.6},
{"date":"2020-08-13","series":"Others","value":28.9},
{"date":"2020-09-01","series":"Others","value":29.8},
{"date":"2020-09-10","series":"Others","value":30.8},
{"date":"2020-09-23","series":"Others","value":29.8},
{"date":"2020-10-06","series":"Others","value":28.9},
{"date":"2020-10-19","series":"Others","value":26.7},
{"date":"2020-11-01","series":"Others","value":24.1},
{"date":"2020-11-19","series":"Others","value":23.7},
{"date":"2020-12-01","series":"Others","value":24.9},
{"date":"2020-12-14","series":"Others","value":23.0},
{"date":"2020-12-28","series":"Others","value":17.0},
{"date":"2021-01-10","series":"Others","value":18.9},
{"date":"2021-01-23","series":"Others","value":22.2},
{"date":"2021-02-06","series":"Others","value":24.1},
{"date":"2021-02-19","series":"Others","value":25.9},
{"date":"2021-03-07","series":"Others","value":26.7},
{"date":"2021-03-20","series":"Others","value":28.6},
{"date":"2021-03-29","series":"Others","value":31.5},
{"date":"2021-04-12","series":"Others","value":35.3},
{"date":"2021-04-24","series":"Others","value":35.7},
{"date":"2021-05-03","series":"Others","value":37.5},
{"date":"2021-05-12","series":"Others","value":39.0},
{"date":"2021-05-20","series":"Others","value":35.3},
{"date":"2021-06-03","series":"Others","value":39.0},
{"date":"2021-06-16","series":"Others","value":36.4},
{"date":"2021-06-29","series":"Others","value":35.7},
{"date":"2021-07-17","series":"Others","value":35.3},
{"date":"2021-08-04","series":"Others","value":33.0},
{"date":"2021-08-17","series":"Others","value":36.4},
{"date":"2021-09-04","series":"Others","value":38.2},
{"date":"2021-09-13","series":"Others","value":39.4},
{"date":"2021-09-26","series":"Others","value":38.0},
{"date":"2021-10-13","series":"Others","value":34.2},
{"date":"2021-10-26","series":"Others","value":36.4},
{"date":"2021-11-09","series":"Others","value":37.5},
{"date":"2021-11-26","series":"Others","value":37.1},
{"date":"2021-12-09","series":"Others","value":37.5},
{"date":"2021-12-22","series":"Others","value":39.4},
{"date":"2022-01-10","series":"Others","value":40.5},
{"date":"2022-01-23","series":"Others","value":39.8},
{"date":"2022-02-14","series":"Others","value":39.4},
{"date":"2022-03-01","series":"Others","value":39.1},
{"date":"2022-03-18","series":"Others","value":39.4},
{"date":"2022-04-02","series":"Others","value":39.1},
{"date":"2022-04-15","series":"Others","value":38.7},
{"date":"2022-04-28","series":"Others","value":37.5},
{"date":"2022-05-11","series":"Others","value":35.6},
{"date":"2022-06-07","series":"Others","value":35.6},
{"date":"2022-06-15","series":"Others","value":40.8},
{"date":"2022-06-28","series":"Others","value":41.6},
{"date":"2022-07-11","series":"Others","value":39.4},
{"date":"2022-07-24","series":"Others","value":39.1},
{"date":"2022-08-11","series":"Others","value":39.4},
{"date":"2022-08-24","series":"Others","value":40.5},
{"date":"2022-09-12","series":"Others","value":41.6},
{"date":"2022-09-25","series":"Others","value":43.1},
{"date":"2022-10-12","series":"Others","value":43.1},
{"date":"2022-10-21","series":"Others","value":41.6},
{"date":"2022-11-08","series":"Others","value":42.7},
{"date":"2022-11-21","series":"Others","value":43.8},
{"date":"2022-12-04","series":"Others","value":42.7},
{"date":"2022-12-17","series":"Others","value":41.2},
{"date":"2022-12-30","series":"Others","value":39.4},
{"date":"2023-01-17","series":"Others","value":39.7},
{"date":"2023-02-04","series":"Others","value":38.7},
{"date":"2023-02-17","series":"Others","value":39.7},
{"date":"2023-02-28","series":"Others","value":38.2},
{"date":"2023-03-13","series":"Others","value":35.6},
{"date":"2023-03-26","series":"Others","value":34.5},
{"date":"2023-04-14","series":"Others","value":34.2},
{"date":"2023-04-27","series":"Others","value":33.8},
{"date":"2023-05-10","series":"Others","value":33.8},
{"date":"2023-05-23","series":"Others","value":33.3},
{"date":"2023-06-06","series":"Others","value":32.7},
{"date":"2023-06-14","series":"Others","value":30.4},
{"date":"2023-06-27","series":"Others","value":30.8},
{"date":"2023-07-10","series":"Others","value":31.9},
{"date":"2023-08-10","series":"Others","value":31.9},
{"date":"2023-09-15","series":"Others","value":31.9},
{"date":"2023-10-11","series":"Others","value":31.8},
{"date":"2023-10-23","series":"Others","value":29.3},
{"date":"2023-11-11","series":"Others","value":30.8},
{"date":"2023-11-24","series":"Others","value":31.6},
{"date":"2023-12-07","series":"Others","value":30.1},
{"date":"2023-12-24","series":"Others","value":32.8},
{"date":"2024-01-07","series":"Others","value":31.2},
{"date":"2024-01-20","series":"Others","value":31.9},
{"date":"2024-02-08","series":"Others","value":30.8},
{"date":"2024-03-04","series":"Others","value":30.8},
{"date":"2024-04-04","series":"Others","value":30.8},
{"date":"2024-04-17","series":"Others","value":28.9},
{"date":"2024-05-04","series":"Others","value":30.1},
{"date":"2024-05-26","series":"Others","value":29.3},
{"date":"2024-06-09","series":"Others","value":28.1},
{"date":"2024-06-21","series":"Others","value":27.1},
{"date":"2024-07-09","series":"Others","value":27.8},
{"date":"2024-07-30","series":"Others","value":27.8},
{"date":"2024-08-14","series":"Others","value":28.6},
{"date":"2024-08-27","series":"Others","value":28.9},
{"date":"2024-09-09","series":"Others","value":29.8},
{"date":"2024-09-18","series":"Others","value":28.6},
{"date":"2024-10-10","series":"Others","value":28.6},
{"date":"2024-10-27","series":"Others","value":27.5},
{"date":"2024-11-05","series":"Others","value":26.9},
{"date":"2024-11-19","series":"Others","value":28.6},
{"date":"2024-11-27","series":"Others","value":30.8},
{"date":"2024-12-06","series":"Others","value":32.8},
{"date":"2024-12-15","series":"Others","value":29.8},
{"date":"2025-01-02","series":"Others","value":30.8},
{"date":"2025-01-24","series":"Others","value":30.8},
{"date":"2025-02-01","series":"Others","value":29.0}
]
},
"data": {"name": "dominance"},
"layer": [
{"transform": [{"filter": "datum.series === 'Others'"}],
 "mark": {"type": "line", "strokeWidth": 2.2, "strokeJoin": "round", "strokeCap": "round"},
 "encoding": {
  "x": {"field": "date", "type": "temporal",
   "scale": {"type": "utc", "domain": [{"year": 2013, "month": 4, "date": 29, "utc": true}, {"year": 2025, "month": 2, "date": 1, "utc": true}]},
   "axis": {"title": null, "values": [{"year": 2014, "month": 1, "date": 1, "utc": true}, {"year": 2016, "month": 1, "date": 1, "utc": true}, {"year": 2018, "month": 1, "date": 1, "utc": true}, {"year": 2020, "month": 1, "date": 1, "utc": true}, {"year": 2022, "month": 1, "date": 1, "utc": true}], "format": "%d %b"}},
  "y": {"field": "value", "type": "quantitative", "scale": {"domain": [0, 100]},
   "axis": {"title": null, "orient": "right", "values": [0, 25, 50, 75, 100], "labelExpr": "format(datum.value, '.2f') + '%'"}},
  "color": {"field": "series", "type": "nominal",
  "scale": {"domain": ["Bitcoin", "Ethereum", "Others"], "range": ["#f68b1f", "#6188ff", "#cfd6e4"]},
  "legend": {"orient": "none", "legendX": -4, "legendY": -41, "direction": "horizontal", "title": null, "symbolType": "circle", "symbolSize": 64, "symbolStrokeWidth": 0, "labelFontSize": 15, "labelColor": "#58667e", "labelFont": "Inter", "labelOffset": 6, "columnPadding": 18, "padding": 0,
   "encode": {"symbols": {"update": {"fill": {"scale": "color", "field": "value"}, "fillOpacity": {"value": 1}}}}}}}},
{"transform": [{"filter": "datum.series === 'Ethereum'"}],
 "mark": {"type": "line", "strokeWidth": 2.2, "strokeJoin": "round", "strokeCap": "round"},
 "encoding": {"x": {"field": "date", "type": "temporal"}, "y": {"field": "value", "type": "quantitative"}, "color": {"field": "series", "type": "nominal"}}},
{"transform": [{"filter": "datum.series === 'Bitcoin'"}],
 "mark": {"type": "line", "strokeWidth": 2.2, "strokeJoin": "round", "strokeCap": "round"},
 "encoding": {"x": {"field": "date", "type": "temporal"}, "y": {"field": "value", "type": "quantitative"}, "color": {"field": "series", "type": "nominal"}}},
{"data": {"values": [{"k": 1}]}, "mark": {"type": "rect", "color": "#eff2f5", "cornerRadius": 8},
 "encoding": {"x": {"datum": {"year": 2020, "month": 9, "date": 18, "utc": true}, "type": "temporal"}, "x2": {"datum": {"year": 2024, "month": 4, "date": 8, "utc": true}}, "y": {"datum": 119.64, "type": "quantitative"}, "y2": {"datum": 110.94}}},
{"data": {"values": [{"k": 1}]}, "mark": {"type": "rect", "color": "#ffffff", "cornerRadius": 7},
 "encoding": {"x": {"datum": {"year": 2020, "month": 10, "date": 6, "utc": true}, "type": "temporal"}, "x2": {"datum": {"year": 2022, "month": 11, "date": 8, "utc": true}}, "y": {"datum": 118.97, "type": "quantitative"}, "y2": {"datum": 111.38}}},
{"data": {"values": [{"k": 1}]}, "mark": {"type": "rect", "color": "#eff2f5", "cornerRadius": 8},
 "encoding": {"x": {"datum": {"year": 2024, "month": 5, "date": 22, "utc": true}, "type": "temporal"}, "x2": {"datum": {"year": 2026, "month": 1, "date": 1, "utc": true}}, "y": {"datum": 119.64, "type": "quantitative"}, "y2": {"datum": 110.94}}},
{"data": {"values": [{"k": 1}]}, "mark": {"type": "rect", "color": "#ffffff", "cornerRadius": 7},
 "encoding": {"x": {"datum": {"year": 2025, "month": 6, "date": 29, "utc": true}, "type": "temporal"}, "x2": {"datum": {"year": 2025, "month": 12, "date": 14, "utc": true}}, "y": {"datum": 118.97, "type": "quantitative"}, "y2": {"datum": 111.38}}},
{"data": {"values": [{"k": 1}]}, "mark": {"type": "text", "text": "Bitcoin Dominance", "align": "center", "baseline": "middle", "fontSize": 14.8, "fontWeight": 600, "color": "#0d1421", "font": "Inter"},
 "encoding": {"x": {"datum": {"year": 2021, "month": 10, "date": 22, "utc": true}, "type": "temporal"}, "y": {"datum": 115.0, "type": "quantitative"}}},
{"data": {"values": [{"k": 1}]}, "mark": {"type": "text", "text": "Top Coins", "align": "center", "baseline": "middle", "fontSize": 14.8, "fontWeight": 600, "color": "#58667e", "font": "Inter"},
 "encoding": {"x": {"datum": {"year": 2023, "month": 7, "date": 25, "utc": true}, "type": "temporal"}, "y": {"datum": 115.0, "type": "quantitative"}}},
{"data": {"values": [{"k": 1}]}, "mark": {"type": "text", "text": "30d", "align": "center", "baseline": "middle", "fontSize": 14.8, "fontWeight": 600, "color": "#58667e", "font": "Inter"},
 "encoding": {"x": {"datum": {"year": 2024, "month": 9, "date": 23, "utc": true}, "type": "temporal"}, "y": {"datum": 115.0, "type": "quantitative"}}},
{"data": {"values": [{"k": 1}]}, "mark": {"type": "text", "text": "1y", "align": "center", "baseline": "middle", "fontSize": 14.8, "fontWeight": 600, "color": "#58667e", "font": "Inter"},
 "encoding": {"x": {"datum": {"year": 2025, "month": 3, "date": 31, "utc": true}, "type": "temporal"}, "y": {"datum": 115.0, "type": "quantitative"}}},
{"data": {"values": [{"k": 1}]}, "mark": {"type": "text", "text": "All", "align": "center", "baseline": "middle", "fontSize": 14.8, "fontWeight": 700, "color": "#0d1421", "font": "Inter"},
 "encoding": {"x": {"datum": {"year": 2025, "month": 9, "date": 26, "utc": true}, "type": "temporal"}, "y": {"datum": 115.0, "type": "quantitative"}}},
{"data": {"values": [{"k": 1}]}, "mark": {"type": "point", "shape": "circle", "filled": false, "size": 620, "strokeWidth": 3.5, "color": "#e9ebef", "opacity": 1},
 "encoding": {"x": {"datum": {"year": 2022, "month": 7, "date": 3, "utc": true}, "type": "temporal"}, "y": {"datum": 8.0, "type": "quantitative"}}},
{"data": {"values": [{"k": 1}]}, "mark": {"type": "text", "text": "CoinMarketCap", "align": "left", "baseline": "middle", "fontSize": 19, "fontWeight": 700, "color": "#e9ebef", "font": "Inter"},
 "encoding": {"x": {"datum": {"year": 2022, "month": 10, "date": 21, "utc": true}, "type": "temporal"}, "y": {"datum": 7.8, "type": "quantitative"}}},
{"transform": [{"aggregate": [{"op": "argmax", "field": "date", "as": "last"}], "groupby": ["series"]},
  {"calculate": "datum.last.value", "as": "v"},
  {"calculate": "datum.last.date", "as": "d"},
  {"calculate": "format(datum.v, '.2f') + '%'", "as": "label"}],
 "layer": [
  {"mark": {"type": "rect", "cornerRadius": 4, "xOffset": 10, "x2Offset": 70, "yOffset": -13.5, "y2Offset": 13.5},
   "encoding": {"x": {"field": "d", "type": "temporal"}, "x2": {"field": "d"}, "y": {"field": "v", "type": "quantitative"}, "y2": {"field": "v"}, "color": {"field": "series", "type": "nominal", "legend": null}}},
  {"mark": {"type": "text", "dx": 40, "align": "center", "baseline": "middle", "color": "#ffffff", "fontSize": 13, "fontWeight": 700, "font": "Inter"},
   "encoding": {"x": {"field": "d", "type": "temporal"}, "y": {"field": "v", "type": "quantitative"}, "text": {"field": "label"}}}
 ]},
{"data": {"values": [{"k": 1}]}, "mark": {"type": "rule", "strokeWidth": 8, "strokeCap": "round", "color": "#22b8f0"},
 "encoding": {"x": {"datum": {"year": 2023, "month": 2, "date": 26, "utc": true}, "type": "temporal"}, "y": {"datum": -3.5, "type": "quantitative"}, "y2": {"datum": -12.0}}},
{"data": {"values": [{"k": 1}]}, "mark": {"type": "rule", "strokeWidth": 8, "strokeCap": "round", "color": "#1f5fe6"},
 "encoding": {"x": {"datum": {"year": 2023, "month": 6, "date": 10, "utc": true}, "type": "temporal"}, "y": {"datum": -3.5, "type": "quantitative"}, "y2": {"datum": -12.0}}},
{"data": {"values": [{"k": 1}]}, "mark": {"type": "text", "text": "区块周刊", "align": "center", "baseline": "middle", "fontSize": 41, "fontWeight": 700, "color": "#1f5fe6", "font": "Noto Sans CJK SC"},
 "encoding": {"x": {"datum": {"year": 2024, "month": 9, "date": 14, "utc": true}, "type": "temporal"}, "y": {"datum": -8.6, "type": "quantitative"}}}
]
}
